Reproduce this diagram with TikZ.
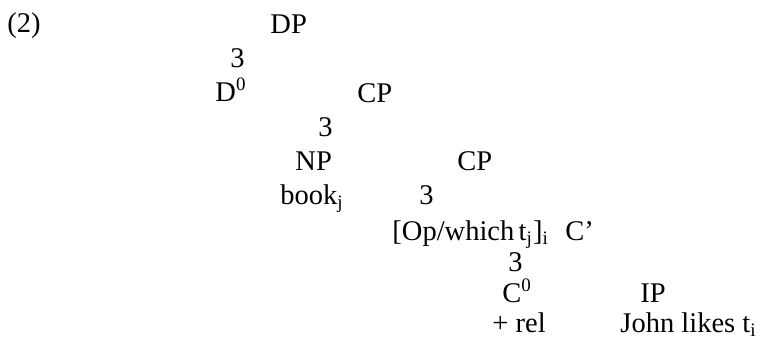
\documentclass[tikz,border=0pt]{standalone}
\usepackage{fontspec}
\setmainfont{Liberation Serif}
\begin{document}
\begin{tikzpicture}[x=0.421pt,y=-0.421pt,
  lbl/.style={font=\fontsize{12pt}{14pt}\selectfont, inner sep=0pt, anchor=base west}]
\useasboundingbox (0,0) rectangle (762,339);
\node[lbl] (ex) at (7,32) {(2)};
\node[lbl] (dp) at (270,33) {DP};
\node[lbl] (b1) at (230,67) {3};
\node[lbl] (d0) at (215,101) {D\textsuperscript{0}};
\node[lbl] (cp1) at (357,102) {CP};
\node[lbl] (b2) at (318,136) {3};
\node[lbl] (np) at (295,170) {NP};
\node[lbl] (cp2) at (457,170) {CP};
\node[lbl] (book) at (280,204) {book\textsubscript{j}};
\node[lbl] (b3) at (419,204) {3};
\node[lbl] (op) at (392,240) {[Op/which\kern0.15em t\textsubscript{j}]\textsubscript{i}};
\node[lbl] (cbar) at (565,240) {C’};
\node[lbl] (b4) at (508,271) {3};
\node[lbl] (c0) at (502,302) {C\textsuperscript{0}};
\node[lbl] (ip) at (640,302) {IP};
\node[lbl] (rel) at (492,332) {+ rel};
\node[lbl] (john) at (620,332) {John likes t\textsubscript{i}};
\end{tikzpicture}
\end{document}
